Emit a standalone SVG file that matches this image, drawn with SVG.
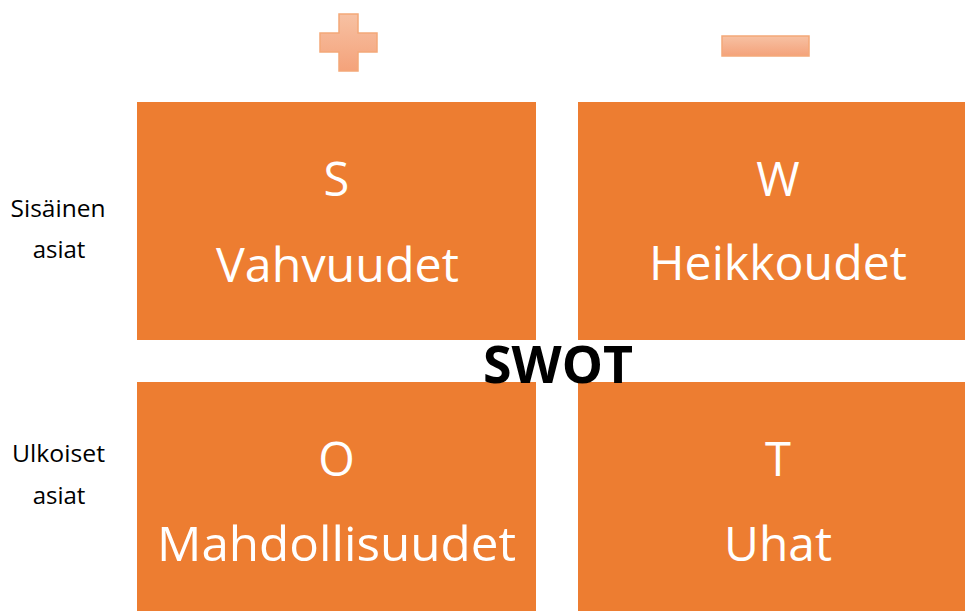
<svg xmlns="http://www.w3.org/2000/svg" width="965" height="611" viewBox="0 0 965 611">
<defs>
<linearGradient id="g" x1="0" y1="0" x2="0" y2="1">
<stop offset="0" stop-color="#F7C1A3"/>
<stop offset="1" stop-color="#F4A27A"/>
</linearGradient>
<style>
.box{fill:#ED7D31}
.sign{fill:url(#g);stroke:#F4A878;stroke-width:1.5}
.big{font-family:"Open Sans","Liberation Sans",sans-serif;font-size:47px;fill:#fff;text-anchor:middle}
.side{font-family:"Open Sans","Liberation Sans",sans-serif;font-size:24px;fill:#000;text-anchor:middle}
.title{font-family:"Open Sans","Liberation Sans",sans-serif;font-size:52px;font-weight:bold;fill:#000;text-anchor:middle}
</style>
</defs>
<rect width="965" height="611" fill="#fff"/>
<g id="plus"><path class="sign" d="M339,14H358V33H377V52H358V71H339V52H320V33H339Z"/></g>
<g id="minus"><rect class="sign" x="722" y="36" width="87" height="20"/></g>
<g id="S"><rect class="box" x="137" y="102" width="399" height="238"/>
<text class="big" x="336.5" y="196">S</text>
<text class="big" x="337.5" y="282" textLength="243" lengthAdjust="spacingAndGlyphs">Vahvuudet</text></g>
<g id="W"><rect class="box" x="578" y="102" width="400" height="238"/>
<text class="big" x="778" y="196">W</text>
<text class="big" x="778" y="280" textLength="258" lengthAdjust="spacingAndGlyphs">Heikkoudet</text></g>
<g id="O"><rect class="box" x="137" y="382" width="399" height="240"/>
<text class="big" x="336.5" y="476">O</text>
<text class="big" x="336.5" y="561" textLength="359" lengthAdjust="spacingAndGlyphs">Mahdollisuudet</text></g>
<g id="T"><rect class="box" x="578" y="382" width="400" height="240"/>
<text class="big" x="778" y="476">T</text>
<text class="big" x="778" y="561" textLength="108" lengthAdjust="spacingAndGlyphs">Uhat</text></g>
<g id="sisainen"><text class="side" x="58" y="217" textLength="95" lengthAdjust="spacingAndGlyphs">Sisäinen</text><text class="side" x="59" y="258">asiat</text></g>
<g id="ulkoiset"><text class="side" x="58.5" y="462" textLength="93" lengthAdjust="spacingAndGlyphs">Ulkoiset</text><text class="side" x="59" y="504">asiat</text></g>
<g id="swot"><text class="title" x="558" y="383" textLength="150" lengthAdjust="spacingAndGlyphs">SWOT</text></g>
<g id="connectors"/>
</svg>
